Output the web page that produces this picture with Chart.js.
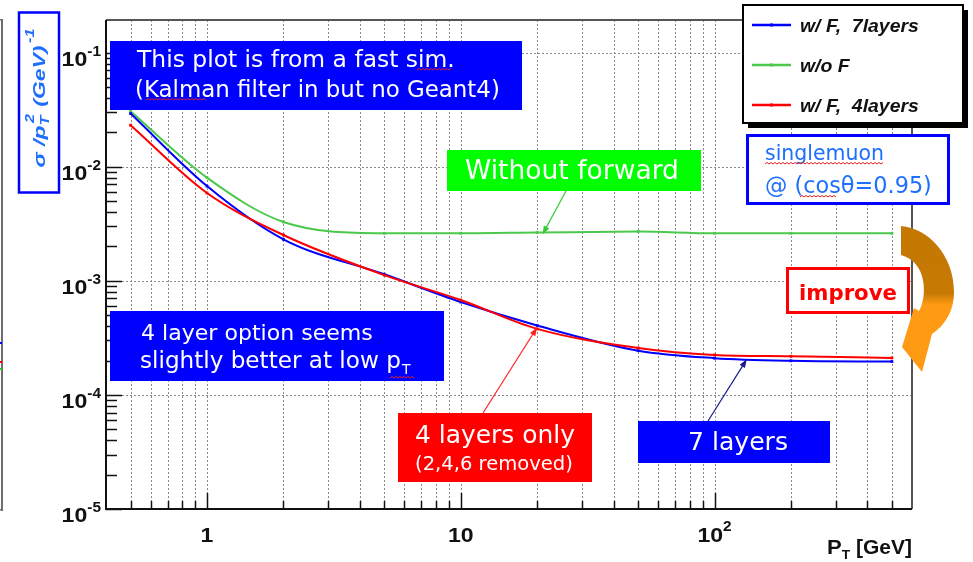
<!DOCTYPE html>
<html>
<head>
<meta charset="utf-8">
<script src="https://cdn.jsdelivr.net/npm/chart.js@4.4.1/dist/chart.umd.min.js"></script>
<style>
  html, body { margin: 0; padding: 0; background: #fff; }
</style>
</head>
<body>
<canvas id="resChart" width="973" height="562"></canvas>
<script>
// values
const ptValues = [0.5, 1, 2, 5, 10, 20, 50, 100, 200, 500]
const sigma7layers = [0.0292, 0.00676, 0.00231, 0.00114, 0.000652, 0.000406, 0.000244, 0.00021, 0.000199, 0.000196]
const sigmaNoForward = [0.0306, 0.00801, 0.00328, 0.00261, 0.00261, 0.00265, 0.0027, 0.00261, 0.00261, 0.00261]
const sigma4layers = [0.0231, 0.00588, 0.00252, 0.00112, 0.000678, 0.000379, 0.000258, 0.000224, 0.000218, 0.000211]
const seriesLabels = ['w/ F,  7layers', 'w/o F', 'w/ F,  4layers']
const seriesColors = ['#0000ff', '#4cc84c', '#ff0000']

const xTickValues = [1, 10, 100]
const xTickLabels = [['1', ''], ['10', ''], ['10', '2']]
const yTickValues = [1e-1, 1e-2, 1e-3, 1e-4, 1e-5]
const yTickLabels = [['10', '-1'], ['10', '-2'], ['10', '-3'], ['10', '-4'], ['10', '-5']]

const comic = "'Comic Sans MS', 'DejaVu Sans', sans-serif"
const helv = "'Liberation Sans', Arial, sans-serif"

function toPoints(ys) {
  return ptValues.map((x, i) => ({ x: x, y: ys[i] }))
}

function makeSet(i, ys, order) {
  return {
    label: seriesLabels[i],
    data: toPoints(ys),
    borderColor: seriesColors[i],
    backgroundColor: seriesColors[i],
    borderWidth: 2,
    pointStyle: 'rect',
    pointRadius: 2,
    pointBackgroundColor: seriesColors[i],
    pointBorderWidth: 0,
    cubicInterpolationMode: 'monotone',
    order: order
  }
}

// fit text to a measured width from the picture
function fitText(ctx, text, x, y, width, size, weight) {
  ctx.font = weight + ' ' + size + 'px ' + comic
  const w = ctx.measureText(text).width
  let s = size * width / w
  s = Math.max(size * 0.8, Math.min(size * 1.2, s))
  ctx.font = weight + ' ' + s + 'px ' + comic
  ctx.fillText(text, x, y)
  return s
}

// ROOT labels look a bit wider than the Liberation glyphs, so stretch them
function wideText(ctx, text, x, y, font, sx) {
  ctx.font = font
  ctx.save()
  ctx.translate(x, y)
  ctx.scale(sx, 1)
  ctx.fillText(text, 0, 0)
  ctx.restore()
  return ctx.measureText(text).width * sx
}

function textW(ctx, text, font, sx) {
  ctx.font = font
  return ctx.measureText(text).width * sx
}

function squiggle(ctx, x1, x2, y) {
  ctx.save()
  ctx.strokeStyle = '#e02020'
  ctx.lineWidth = 1
  ctx.beginPath()
  let up = true
  ctx.moveTo(x1, y)
  for (let x = x1 + 2; x <= x2; x += 2) {
    ctx.lineTo(x, up ? y - 1.5 : y)
    up = !up
  }
  ctx.stroke()
  ctx.restore()
}

function arrow(ctx, x1, y1, x2, y2, color) {
  const a = Math.atan2(y2 - y1, x2 - x1)
  ctx.save()
  ctx.strokeStyle = color
  ctx.fillStyle = color
  ctx.lineWidth = 1.2
  ctx.beginPath()
  ctx.moveTo(x1, y1)
  ctx.lineTo(x2 - 6 * Math.cos(a), y2 - 6 * Math.sin(a))
  ctx.stroke()
  ctx.beginPath()
  ctx.moveTo(x2, y2)
  ctx.lineTo(x2 - 9 * Math.cos(a - 0.35), y2 - 9 * Math.sin(a - 0.35))
  ctx.lineTo(x2 - 9 * Math.cos(a + 0.35), y2 - 9 * Math.sin(a + 0.35))
  ctx.closePath()
  ctx.fill()
  ctx.restore()
}

function blockText(ctx, x, y, w, h, fill) {
  ctx.fillStyle = fill
  ctx.fillRect(x, y, w, h)
}

const gridPlugin = {
  id: 'rootGrid',
  beforeDatasetsDraw(chart) {
    const ctx = chart.ctx
    const xs = chart.scales.x, ys = chart.scales.y
    const a = chart.chartArea
    ctx.save()
    ctx.strokeStyle = '#8a8a8a'
    ctx.lineWidth = 1
    ctx.setLineDash([2, 2])
    for (let k = -1; k <= 3; k++) {
      for (let m = 1; m <= 9; m++) {
        const v = m * Math.pow(10, k)
        if (v <= xs.min || v >= xs.max) continue
        const px = Math.round(xs.getPixelForValue(v)) + 0.5
        ctx.beginPath()
        ctx.moveTo(px, a.top)
        ctx.lineTo(px, a.bottom)
        ctx.stroke()
      }
    }
    yTickValues.forEach(v => {
      if (v <= ys.min || v >= ys.max) return
      const py = Math.round(ys.getPixelForValue(v)) + 0.5
      ctx.beginPath()
      ctx.moveTo(a.left, py)
      ctx.lineTo(a.right, py)
      ctx.stroke()
    })
    ctx.restore()
  },
  afterDatasetsDraw(chart) {
    const ctx = chart.ctx
    const xs = chart.scales.x, ys = chart.scales.y
    const a = chart.chartArea
    ctx.save()
    // frame
    ctx.lineWidth = 2
    ctx.strokeStyle = '#555'
    ctx.beginPath()
    ctx.moveTo(a.left, a.top)
    ctx.lineTo(a.right, a.top)
    ctx.lineTo(a.right, a.bottom)
    ctx.stroke()
    ctx.strokeStyle = '#111'
    ctx.beginPath()
    ctx.moveTo(a.left, a.top)
    ctx.lineTo(a.left, a.bottom)
    ctx.lineTo(a.right, a.bottom)
    ctx.stroke()

    // inward ticks
    ctx.lineWidth = 1.5
    ctx.strokeStyle = '#111'
    for (let k = -1; k <= 3; k++) {
      for (let m = 1; m <= 9; m++) {
        const v = m * Math.pow(10, k)
        if (v <= xs.min || v >= xs.max) continue
        const px = Math.round(xs.getPixelForValue(v)) + 0.5
        ctx.beginPath()
        ctx.moveTo(px, a.bottom)
        ctx.lineTo(px, a.bottom - (m === 1 ? 16 : 8))
        ctx.stroke()
      }
    }
    for (let k = -5; k <= -1; k++) {
      for (let m = 1; m <= 9; m++) {
        const v = m * Math.pow(10, k)
        if (v < ys.min || v > ys.max) continue
        const py = Math.round(ys.getPixelForValue(v)) + 0.5
        ctx.beginPath()
        ctx.moveTo(a.left, py)
        ctx.lineTo(a.left + (m === 1 ? 16 : 11), py)
        ctx.stroke()
      }
    }

    // tick labels
    const bigF = 'bold 21px ' + helv
    const supF = 'bold 14px ' + helv
    const sx = 1.1
    ctx.fillStyle = '#111'
    ctx.textBaseline = 'alphabetic'
    ctx.textAlign = 'left'
    yTickValues.forEach((v, i) => {
      const py = ys.getPixelForValue(v)
      const w1 = textW(ctx, yTickLabels[i][0], bigF, sx)
      const w2 = textW(ctx, yTickLabels[i][1], supF, sx)
      const x0 = 101 - w1 - w2
      wideText(ctx, yTickLabels[i][0], x0, py + 13, bigF, sx)
      wideText(ctx, yTickLabels[i][1], x0 + w1, py + 3, supF, sx)
    })
    xTickValues.forEach((v, i) => {
      const px = xs.getPixelForValue(v)
      const w1 = textW(ctx, xTickLabels[i][0], bigF, sx)
      const w2 = textW(ctx, xTickLabels[i][1], supF, sx)
      const x0 = px - (w1 + w2) / 2
      wideText(ctx, xTickLabels[i][0], x0, 542, bigF, sx)
      wideText(ctx, xTickLabels[i][1], x0 + w1, 531, supF, sx)
    })

    // x title  P_T [GeV]
    const pF = 'bold 21px ' + helv
    const gF = 'bold 20px ' + helv
    const tF = 'bold 13px ' + helv
    const sx2 = 1.05
    const wP = textW(ctx, 'P', pF, sx2)
    const wT = textW(ctx, 'T', tF, sx2)
    const wG = textW(ctx, ' [GeV]', gF, sx2)
    const xt = 912 - wP - wT - wG
    wideText(ctx, 'P', xt, 554, pF, sx2)
    wideText(ctx, 'T', xt + wP, 559, tF, sx2)
    wideText(ctx, ' [GeV]', xt + wP + wT, 554, gF, sx2)
    ctx.restore()
  },
  afterDraw(chart) {
    const ctx = chart.ctx
    const xs = chart.scales.x, ys = chart.scales.y
    ctx.save()
    ctx.textBaseline = 'alphabetic'
    ctx.textAlign = 'left'

    // edge of the neighbouring plot
    ctx.fillStyle = '#6e6e6e'
    ctx.fillRect(1, 19, 2, 492)
    ctx.fillRect(0, 19, 3, 1.5)
    ctx.fillRect(0, 509, 3, 1.5)
    ctx.fillStyle = '#0000ff'; ctx.fillRect(0, 342, 2, 2)
    ctx.fillStyle = '#ff0000'; ctx.fillRect(0, 361, 2, 2)
    ctx.fillStyle = '#22cc22'; ctx.fillRect(0, 368, 2, 2)

    // y title box
    ctx.fillStyle = '#fff'
    ctx.fillRect(18, 12, 41, 181)
    ctx.strokeStyle = '#0000ff'
    ctx.lineWidth = 2.5
    ctx.strokeRect(19, 12.5, 40, 180)
    ctx.save()
    ctx.translate(45, 98)
    ctx.rotate(-Math.PI / 2)
    ctx.fillStyle = '#1f6fff'
    const mainF = 'italic bold 17px ' + helv
    const smallF = 'italic bold 12px ' + helv
    ctx.font = mainF
    const p1 = 'σ /p', p3 = ' (GeV)'
    const w1 = ctx.measureText(p1).width
    const w3 = ctx.measureText(p3).width
    ctx.font = smallF
    const w2 = Math.max(ctx.measureText('T').width, ctx.measureText('2').width) + 2
    const w4 = ctx.measureText('-1').width + 2
    const total = w1 + w2 + w3 + w4
    ctx.scale(139 / total, 1)
    let u = -total / 2
    ctx.font = mainF
    ctx.fillText(p1, u, 0)
    u += w1
    ctx.font = smallF
    ctx.fillText('T', u, 4)
    ctx.fillText('2', u + 2, -11)
    u += w2
    ctx.font = mainF
    ctx.fillText(p3, u, 0)
    u += w3
    ctx.font = smallF
    ctx.fillText('-1', u + 2, -11)
    ctx.restore()

    // legend with shadow
    ctx.fillStyle = '#000'
    ctx.fillRect(748, 10, 220, 118)
    ctx.fillStyle = '#fff'
    ctx.fillRect(743, 5, 220, 118)
    ctx.strokeStyle = '#000'
    ctx.lineWidth = 2
    ctx.strokeRect(743, 5, 220, 118)
    chart.data.datasets.forEach((ds, i) => {
      const ly = 25 + i * 40
      ctx.strokeStyle = ds.borderColor
      ctx.lineWidth = 2.5
      ctx.beginPath()
      ctx.moveTo(752, ly)
      ctx.lineTo(791, ly)
      ctx.stroke()
      ctx.fillStyle = ds.borderColor
      ctx.fillRect(770, ly - 1.5, 3, 3)
      ctx.fillStyle = '#111'
      wideText(ctx, ds.label, 800, ly + 7, 'italic bold 18px ' + helv, 1.08)
    })

    // blue note, top left
    blockText(ctx, 110, 41, 412, 69, '#0000ff')
    ctx.fillStyle = '#fff'
    fitText(ctx, 'This plot is from a fast sim.', 137, 67, 318, 21, 'normal')
    fitText(ctx, '(Kalman filter in but no Geant4)', 135, 97, 365, 21, 'normal')
    squiggle(ctx, 146, 207, 100)
    squiggle(ctx, 417, 452, 70)

    // green note
    blockText(ctx, 447, 150, 254, 41, '#00ff00')
    ctx.fillStyle = '#fff'
    fitText(ctx, 'Without forward', 465, 179, 214, 24, 'normal')

    // singlemuon box
    ctx.fillStyle = '#fff'
    ctx.fillRect(746, 134, 204, 71)
    ctx.strokeStyle = '#0000ff'
    ctx.lineWidth = 3
    ctx.strokeRect(747.5, 135.5, 201, 68)
    ctx.fillStyle = '#1f6fff'
    fitText(ctx, 'singlemuon', 765, 160, 119, 21, 'normal')
    fitText(ctx, '@ (cosθ=0.95)', 765, 193, 167, 21, 'normal')
    squiggle(ctx, 765, 884, 164)
    squiggle(ctx, 800, 836, 197)

    // improve box
    ctx.fillStyle = '#fff'
    ctx.fillRect(786, 267, 124, 47)
    ctx.strokeStyle = '#ff0000'
    ctx.lineWidth = 3
    ctx.strokeRect(787.5, 268.5, 121, 44)
    ctx.fillStyle = '#ff0000'
    fitText(ctx, 'improve', 799, 300, 98, 24, 'bold')

    // curved orange arrow
    const grad = ctx.createLinearGradient(0, 226, 0, 372)
    grad.addColorStop(0, '#c47800')
    grad.addColorStop(0.46, '#c67a04')
    grad.addColorStop(0.54, '#ff9a14')
    grad.addColorStop(1, '#ff9a14')
    ctx.fillStyle = grad
    ctx.beginPath()
    ctx.moveTo(901, 226)
    ctx.bezierCurveTo(928, 228, 954, 255, 954, 292)
    ctx.bezierCurveTo(954, 312, 944, 326, 932, 334)
    ctx.lineTo(922, 372)
    ctx.lineTo(902, 347)
    ctx.lineTo(914, 308)
    ctx.lineTo(919, 311)
    ctx.bezierCurveTo(927, 298, 928, 262, 901, 255)
    ctx.closePath()
    ctx.fill()

    // blue note, lower left
    blockText(ctx, 110, 311, 334, 70, '#0000ff')
    ctx.fillStyle = '#fff'
    fitText(ctx, '4 layer option seems', 141, 340, 232, 22, 'normal')
    const sz = fitText(ctx, 'slightly better at low p', 140, 368, 261, 22, 'normal')
    ctx.font = 'normal ' + (sz * 0.6) + 'px ' + comic
    ctx.fillText('T', 402, 374)
    squiggle(ctx, 390, 414, 378)

    // red note
    blockText(ctx, 398, 413, 194, 69, '#ff0000')
    ctx.fillStyle = '#fff'
    fitText(ctx, '4 layers only', 415, 443, 160, 24, 'normal')
    fitText(ctx, '(2,4,6 removed)', 415, 470, 158, 17, 'normal')

    // blue note, 7 layers
    blockText(ctx, 638, 421, 192, 42, '#0000ff')
    ctx.fillStyle = '#fff'
    fitText(ctx, '7 layers', 688, 450, 100, 24, 'normal')

    // pointer arrows, tips placed on the curves through the scales
    arrow(ctx, 566, 191, xs.getPixelForValue(21), ys.getPixelForValue(0.00255), '#33cc33')
    arrow(ctx, 483, 413, xs.getPixelForValue(20), ys.getPixelForValue(0.00039), '#ff2020')
    arrow(ctx, 708, 421, xs.getPixelForValue(134), ys.getPixelForValue(0.000205), '#1a1a8c')
    ctx.restore()
  }
}

new Chart(document.getElementById('resChart'), {
  type: 'line',
  data: {
    datasets: [
      makeSet(0, sigma7layers, 1),
      makeSet(1, sigmaNoForward, 2),
      makeSet(2, sigma4layers, 0)
    ]
  },
  options: {
    responsive: false,
    animation: false,
    devicePixelRatio: 1,
    layout: { padding: { left: 106, right: 61, top: 20, bottom: 53 } },
    plugins: {
      legend: { display: false },
      tooltip: { enabled: false }
    },
    scales: {
      x: { type: 'logarithmic', min: 0.4, max: 600, display: false },
      y: { type: 'logarithmic', min: 1e-5, max: 0.193, display: false }
    }
  },
  plugins: [gridPlugin]
})
</script>
</body>
</html>
